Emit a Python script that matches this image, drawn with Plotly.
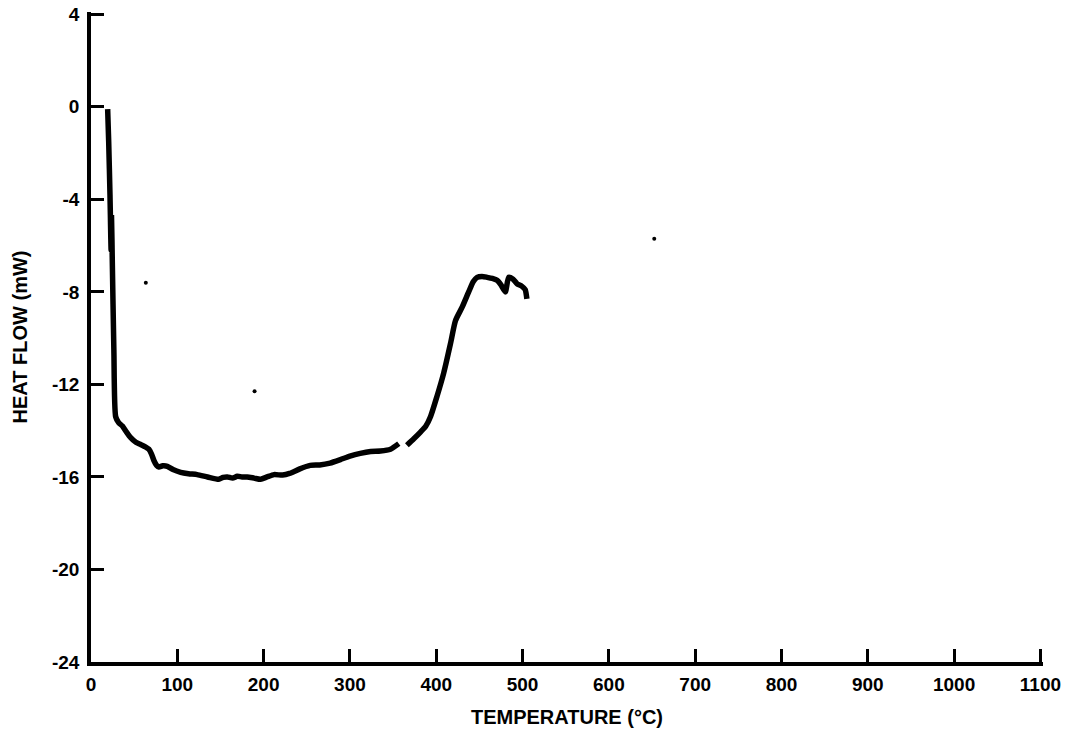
import plotly.graph_objects as go

# Curve: temperature (°C) vs heat flow (mW); None marks the small break in the trace
temperature = [19.3, 20.5, 22.0, 23.3, 23.8, 24.6, 26.5, 28.6, 32, 36.4, 41, 46, 52, 57.5, 63, 67, 70, 73,
               76, 78.7, 83, 88.5, 95, 103.9, 113, 123, 135, 148, 153, 158, 164, 169.5, 175, 181, 189,
               196.5, 204, 212, 222, 230, 242, 254, 265, 277, 289, 300, 312, 324, 335.4, 347, 356.6,
               None, 366, 374, 381.7, 388, 393.3, 401, 408.7, 416.5, 422.3, 430, 437.6, 443, 447.4,
               453, 459, 465, 470.5, 475, 480, 484, 489, 493.7, 499, 503, 505]
heat_flow = [-0.1, -1.5, -3.8, -6.2, -4.8, -6.5, -10.5, -13.4, -13.65, -13.8, -14.05, -14.3, -14.5, -14.6,
             -14.7, -14.8, -15.0, -15.3, -15.5, -15.57, -15.52, -15.54, -15.68, -15.8, -15.86, -15.9,
             -16.0, -16.1, -16.02, -16.0, -16.05, -15.97, -16.0, -16.0, -16.05, -16.1, -16.0, -15.9,
             -15.92, -15.85, -15.65, -15.5, -15.48, -15.4, -15.25, -15.1, -14.98, -14.9, -14.88, -14.8,
             -14.56, None, -14.63, -14.35, -14.06, -13.8, -13.4, -12.5, -11.5, -10.24, -9.24, -8.66,
             -8.0, -7.55, -7.37, -7.33, -7.37, -7.42, -7.5, -7.7, -8.0, -7.37, -7.45, -7.65, -7.75,
             -7.9, -8.3]

# small specks visible on the scanned figure
speck_x = [63.5, 189.5, 652.6]
speck_y = [-7.6, -12.3, -5.7]

x_ticks = [0, 100, 200, 300, 400, 500, 600, 700, 800, 900, 1000, 1100]
y_ticks = [4, 0, -4, -8, -12, -16, -20, -24]
y_tick_text = ["4", "0", "-4", "-8", "-12", "-16", "-20", "-24"]

FONT = "Liberation Sans"

fig = go.Figure()
fig.add_trace(go.Scatter(x=temperature, y=heat_flow, mode="lines",
                         line=dict(color="black", width=5.5, shape="spline", smoothing=0.6),
                         connectgaps=False, hoverinfo="skip", showlegend=False))
fig.add_trace(go.Scatter(x=speck_x, y=speck_y, mode="markers",
                         marker=dict(color="black", size=4), hoverinfo="skip", showlegend=False))

fig.update_layout(
    width=1080, height=733,
    paper_bgcolor="white", plot_bgcolor="white",
    margin=dict(l=91, r=37, t=12, b=71),
    font=dict(family=FONT, color="black", size=18, weight="bold"),
    showlegend=False,
)
fig.update_xaxes(
    range=[0, 1103], tickvals=x_ticks, ticks="inside", ticklen=13, tickwidth=3, tickcolor="black",
    showline=True, linecolor="black", linewidth=3.5, showgrid=False, zeroline=False, automargin=False,
    tickfont=dict(family=FONT, size=19, weight="bold"), ticklabelstandoff=2, ticklabeloverflow="allow",
    title=dict(text="TEMPERATURE (°C)", font=dict(family=FONT, size=20, weight="bold"), standoff=17),
)
fig.update_yaxes(
    range=[-24, 4.1], tickvals=y_ticks, ticktext=y_tick_text, ticks="inside", ticklen=13, tickwidth=3,
    tickcolor="black", showline=True, linecolor="black", linewidth=3.5, showgrid=False, zeroline=False,
    automargin=False, ticklabeloverflow="allow",
    tickfont=dict(family=FONT, size=19, weight="bold"), ticklabelstandoff=4,
    title=dict(text="HEAT FLOW (mW)", font=dict(family=FONT, size=20, weight="bold"), standoff=20),
)

fig.write_html("out.html", config={"displayModeBar": False},
               post_script="document.body.style.margin='0px';")
